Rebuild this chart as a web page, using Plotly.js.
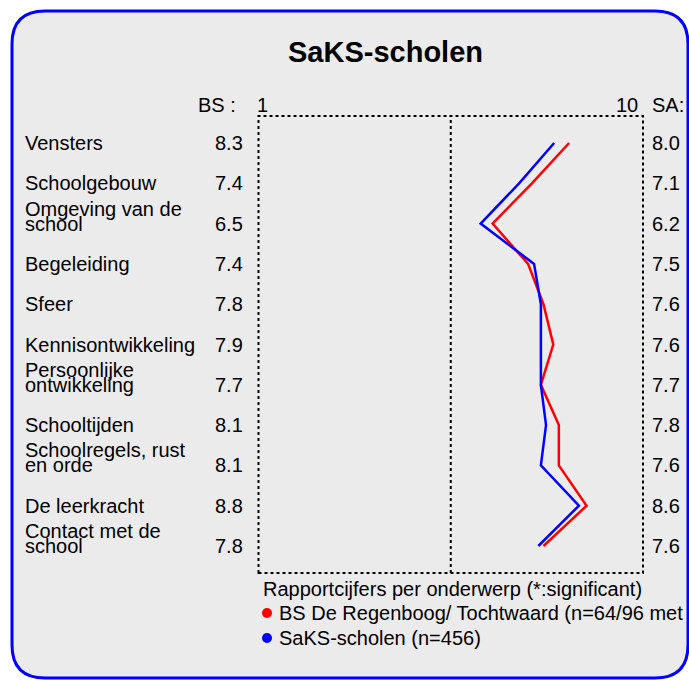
<!DOCTYPE html>
<html><head><meta charset="utf-8">
<script src="https://cdn.plot.ly/plotly-3.0.1.min.js"></script>
<style>html,body{margin:0;padding:0;background:#fff}#chart{width:689px;height:680px}</style>
</head><body><div id="chart"></div>
<script>
const categories = ["Vensters","Schoolgebouw","Omgeving van de\nschool","Begeleiding","Sfeer","Kennisontwikkeling","Persoonlijke\nontwikkeling","Schooltijden","Schoolregels, rust\nen orde","De leerkracht","Contact met de\nschool"];
// printed scores (text columns)
const bsLabels = ["8.3","7.4","6.5","7.4","7.8","7.9","7.7","8.1","8.1","8.8","7.8"];
const saLabels = ["8.0","7.1","6.2","7.5","7.6","7.6","7.7","7.8","7.6","8.6","7.6"];
// plotted scores
const bsValues = [8.27,7.4,6.48,7.31,7.67,7.9,7.61,8.03,8.03,8.68,7.67];
const saValues = [7.92,7.1,6.2,7.45,7.61,7.61,7.61,7.73,7.61,8.5,7.55];
const seriesNames = ["BS De Regenboog/ Tochtwaard (n=64/96 met","SaKS-scholen (n=456)"];
const chartTitle = "SaKS-scholen";
const legendTitle = "Rapportcijfers per onderwerp (*:significant)";
const axisMin = 1, axisMax = 10;

const W = 689, H = 680;
const FONT = "Arial, 'Liberation Sans', sans-serif";
const px = x => x / W;
const py = y => 1 - y / H;
const idx = categories.map((_, i) => i);

const traces = [
  {x: bsValues, y: idx, mode: "lines", line: {color: "#ff0000", width: 2.5}, hoverinfo: "skip", showlegend: false},
  {x: saValues, y: idx, mode: "lines", line: {color: "#0000ff", width: 2.5}, hoverinfo: "skip", showlegend: false}
];

// rounded frame path in paper coords
const bx0 = 12, bx1 = 688, by0 = 11, by1 = 678, r = 33;
function P(x, y){ return px(x).toFixed(5) + "," + py(y).toFixed(5); }
const framePath = "M" + P(bx0 + r, by0) + " L" + P(bx1 - r, by0) + " Q" + P(bx1, by0) + " " + P(bx1, by0 + r) +
  " L" + P(bx1, by1 - r) + " Q" + P(bx1, by1) + " " + P(bx1 - r, by1) +
  " L" + P(bx0 + r, by1) + " Q" + P(bx0, by1) + " " + P(bx0, by1 - r) +
  " L" + P(bx0, by0 + r) + " Q" + P(bx0, by0) + " " + P(bx0 + r, by0) + " Z";

const legColors = ["#ff0000", "#0000ff"];
const legY = [613, 638];

const shapes = [
  {type: "path", xref: "paper", yref: "paper", path: framePath, fillcolor: "#ebebeb", line: {color: "#0000ff", width: 3}, layer: "below"},
  {type: "rect", xref: "x domain", yref: "y domain", x0: 0, x1: 1, y0: 0, y1: 1, line: {color: "#000", width: 2, dash: "dot"}},
  {type: "line", xref: "x", yref: "y domain", x0: (axisMin + axisMax) / 2, x1: (axisMin + axisMax) / 2, y0: 0, y1: 1, line: {color: "#000", width: 2, dash: "dot"}}
];
legColors.forEach((c, i) => {
  shapes.push({type: "circle", xref: "paper", yref: "paper", x0: px(262), x1: px(272), y0: py(legY[i] + 5), y1: py(legY[i] - 5), fillcolor: c, line: {width: 0}});
});

const ann = [];
const txt = (o) => Object.assign({showarrow: false, font: {family: FONT, size: 20, color: "#000"}}, o);
ann.push(txt({text: "<b>" + chartTitle + "</b>", xref: "paper", yref: "paper", x: px(385), y: py(52), xanchor: "center", yanchor: "middle", font: {family: FONT, size: 29, color: "#000"}}));
ann.push(txt({text: "BS :", xref: "paper", yref: "paper", x: px(238), y: py(105), xanchor: "right", yanchor: "middle"}));
ann.push(txt({text: String(axisMin), xref: "paper", yref: "paper", x: px(262), y: py(105), xanchor: "center", yanchor: "middle"}));
ann.push(txt({text: String(axisMax), xref: "paper", yref: "paper", x: px(627), y: py(105), xanchor: "center", yanchor: "middle"}));
ann.push(txt({text: "SA:", xref: "paper", yref: "paper", x: px(650), y: py(105), xanchor: "left", yanchor: "middle"}));

categories.forEach((c, i) => {
  const lines = c.split("\n");
  if (lines.length === 1) {
    ann.push(txt({text: lines[0], xref: "paper", yref: "y", x: px(23), y: i, xanchor: "left", yanchor: "middle"}));
  } else {
    ann.push(txt({text: lines[0], xref: "paper", yref: "y", x: px(23), y: i, yshift: 15, xanchor: "left", yanchor: "middle"}));
    ann.push(txt({text: lines[1], xref: "paper", yref: "y", x: px(23), y: i, xanchor: "left", yanchor: "middle"}));
  }
  ann.push(txt({text: bsLabels[i], xref: "paper", yref: "y", x: px(245), y: i, xanchor: "right", yanchor: "middle"}));
  ann.push(txt({text: saLabels[i], xref: "paper", yref: "y", x: px(650), y: i, xanchor: "left", yanchor: "middle"}));
});

ann.push(txt({text: legendTitle, xref: "paper", yref: "paper", x: px(261), y: py(589), xanchor: "left", yanchor: "middle"}));
seriesNames.forEach((n, i) => {
  ann.push(txt({text: n, xref: "paper", yref: "paper", x: px(277), y: py(legY[i]), xanchor: "left", yanchor: "middle"}));
});

const layout = {
  width: W, height: H,
  margin: {l: 0, r: 0, t: 0, b: 0, pad: 0},
  paper_bgcolor: "#ffffff",
  plot_bgcolor: "rgba(0,0,0,0)",
  showlegend: false,
  xaxis: {range: [axisMin, axisMax], domain: [px(258.5), px(643)], side: "top", showgrid: false, zeroline: false, showline: false,
          showticklabels: false, ticks: "inside", tickvals: [axisMin, axisMax], ticklen: 5, tickwidth: 2, tickcolor: "#000", fixedrange: true},
  yaxis: {range: [10.67, -0.67], domain: [py(573), py(116)], showgrid: false, zeroline: false, showline: false, showticklabels: false, ticks: "", fixedrange: true},
  shapes: shapes,
  annotations: ann
};

Plotly.newPlot("chart", traces, layout, {displayModeBar: false, staticPlot: true});
</script></body></html>
